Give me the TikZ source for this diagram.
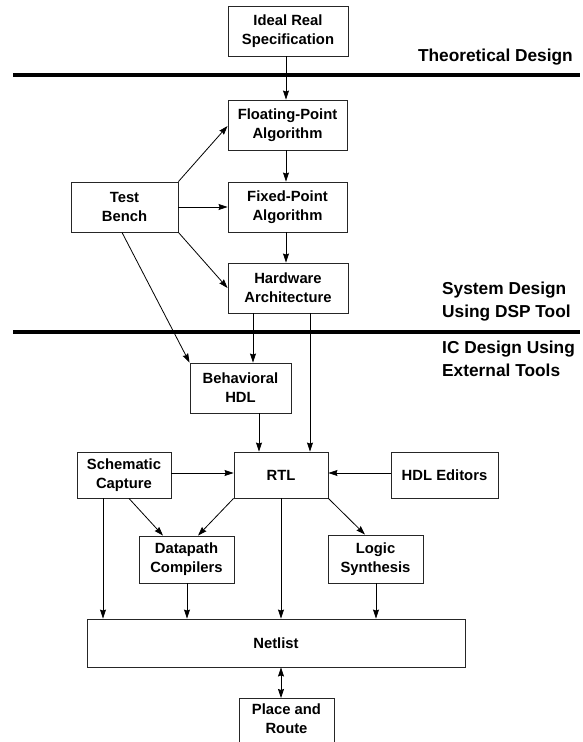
\documentclass[tikz,border=0pt]{standalone}
\usepackage{fontspec}
\setmainfont{Liberation Sans}
\usetikzlibrary{arrows.meta}
\tikzset{
  box/.style={draw=black!85, line width=0.9pt, inner sep=0pt, align=center,
    font=\fontsize{14.8}{19}\selectfont\bfseries},
  txt/.style={inner sep=0pt, align=center, font=\fontsize{14.8}{19}\selectfont\bfseries},
  lbl/.style={inner sep=0pt, font=\fontsize{17.3}{23}\selectfont\bfseries},
  arr/.style={line width=0.8pt, -{Stealth[length=9pt,width=6pt,inset=1pt]}},
  darr/.style={line width=0.8pt, {Stealth[length=9pt,width=6pt,inset=1pt]}-{Stealth[length=9pt,width=6pt,inset=1pt]}},
  sep/.style={line width=3.5pt}
}
\begin{document}
\begin{tikzpicture}[x=1pt,y=-1pt]
\useasboundingbox (0,0) rectangle (583,742);
% boxes
\node[box, minimum width=120, minimum height=50] (ideal) at (288,31) {Ideal Real\\Specification};
\node[box, minimum width=119, minimum height=50] (flp) at (287.5,125) {Floating-Point\\Algorithm};
\node[box, minimum width=107, minimum height=50] (tb) at (124.5,207) {Test\\Bench};
\node[box, minimum width=119, minimum height=50] (fxp) at (287.5,207) {Fixed-Point\\Algorithm};
\node[box, minimum width=120, minimum height=50] (hw) at (288,288) {Hardware\\Architecture};
\node[box, minimum width=101, minimum height=50] (beh) at (240.5,388) {Behavioral\\HDL};
\node[box, minimum width=94, minimum height=46] (sch) at (124,475) {Schematic\\Capture};
\node[box, minimum width=94, minimum height=46] (rtl) at (281,475) {RTL};
\node[box, minimum width=107, minimum height=46] (hdl) at (444.5,475) {HDL Editors};
\node[box, minimum width=95, minimum height=47] (dp) at (186.5,559.5) {Datapath\\Compilers};
\node[box, minimum width=95, minimum height=48] (ls) at (375.5,559) {Logic\\Synthesis};
\node[box, minimum width=378, minimum height=48] (net) at (276,643) {Netlist};
\node[box, minimum width=95, minimum height=70, anchor=north] (pr) at (286.5,698) {};
\node[txt] (prt) at ([yshift=-21pt]pr.north) {Place and\\Route};
% separators and labels
\coordinate (s1a) at (13,75); \coordinate (s1b) at (580,75);
\coordinate (s2a) at (13,332); \coordinate (s2b) at (580,332);
\draw[sep] (s1a) -- (s1b);
\draw[sep] (s2a) -- (s2b);
\node[lbl, anchor=east] (theo) at (573,57) {Theoretical Design};
\node[lbl, anchor=west, align=left] (sysd) at (442,301.5) {System Design\\Using DSP Tool};
\node[lbl, anchor=west, align=left] (icd) at (442,358.5) {IC Design Using\\External Tools};
% connectors
\draw[arr] (ideal.south -| 286,0) -- (flp.north -| 286,0);
\draw[arr] (flp.south -| 286,0) -- (fxp.north -| 286,0);
\draw[arr] (fxp.south -| 286,0) -- (hw.north -| 286,0);
\draw[arr] (tb.north east) -- (flp.west |- 0,126);
\draw[arr] (tb.east) -- (fxp.west);
\draw[arr] (tb.south east) -- (hw.west);
\draw[arr] (tb.south -| 122,0) -- (beh.north west);
\draw[arr] (hw.south -| 253,0) -- (beh.north -| 253,0);
\draw[arr] (hw.south -| 310,0) -- (rtl.north -| 310,0);
\draw[arr] (beh.south -| 259,0) -- (rtl.north -| 259,0);
\draw[arr] (sch.east |- 0,473) -- (rtl.west |- 0,473);
\draw[arr] (hdl.west |- 0,473) -- (rtl.east |- 0,473);
\draw[arr] (sch.south -| 129,0) -- (dp.north -| 163,0);
\draw[arr] (rtl.south west) -- (dp.north -| 198,0);
\draw[arr] (rtl.south east) -- (ls.north -| 365,0);
\draw[arr] (sch.south -| 103,0) -- (net.north -| 103,0);
\draw[arr] (dp.south -| 187,0) -- (net.north -| 187,0);
\draw[arr] (rtl.south) -- (net.north -| 281,0);
\draw[arr] (ls.south -| 376,0) -- (net.north -| 376,0);
\draw[darr] (net.south -| 281,0) -- (pr.north -| 281,0);
\end{tikzpicture}
\end{document}
